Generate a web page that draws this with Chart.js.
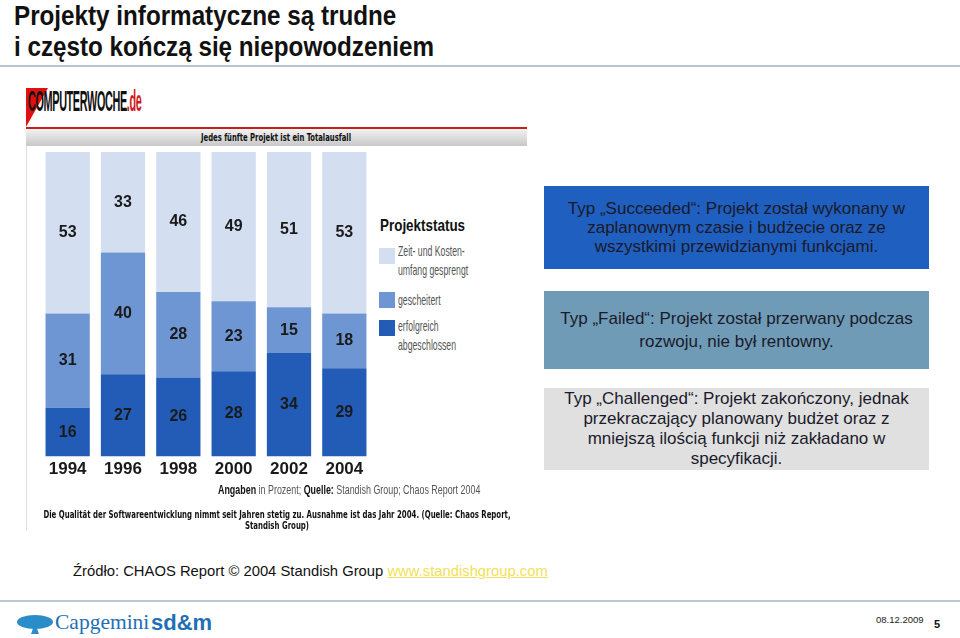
<!DOCTYPE html>
<html lang="pl">
<head>
    <meta charset="UTF-8">
    <title>Projekty informatyczne</title>
    <script src="https://cdn.jsdelivr.net/npm/chart.js"></script>
    <style>
        body {
            margin: 0;
            width: 960px;
            height: 638px;
            position: relative;
            background: #fff;
            font-family: 'Liberation Sans', Arial, sans-serif;
            overflow: hidden;
        }
        .abs { position: absolute; white-space: nowrap; }
        .narrow { transform-origin: left center; }
        h1 {
            position: absolute;
            left: 14px;
            top: 0px;
            margin: 0;
            font-size: 28px;
            line-height: 31px;
            font-weight: bold;
            color: #111;
            transform: scaleX(0.865);
            transform-origin: left top;
            white-space: nowrap;
        }
        .rule { left: 0; top: 65px; width: 960px; height: 2px; background: #b8c4d0; }

        /* scanned newspaper graphic */
        .tri {
            left: 26px; top: 88px;
            width: 0; height: 0;
            border-top: 39px solid #e01010;
            border-right: 22px solid transparent;
        }
        .logo {
            left: 28px; top: 85px;
            font-weight: bold;
            font-size: 29px;
            letter-spacing: -1px;
            color: #111;
            transform: scaleX(0.375);
        }
        .logo span { color: #d01818; }
        .redline { left: 26px; top: 127px; width: 501px; height: 2px; background: #c81e1e; }
        .subbar {
            left: 26px; top: 129px; width: 501px; height: 17px;
            background: linear-gradient(#f2f2f2, #c8c8c8);
        }
        .subbar div {
            position: absolute; left: 250px; top: 0;
            font-family: 'DejaVu Sans Condensed', 'DejaVu Sans', sans-serif;
            font-weight: bold;
            font-size: 10px;
            line-height: 17px;
            color: #111;
            white-space: nowrap;
            transform: translateX(-50%) scaleX(0.76);
        }
        .leftline { left: 26px; top: 146px; width: 1px; height: 384px; background: #ddd; }
        #chartWrap { left: 40px; top: 152px; width: 332px; height: 331px; }

        .lhead { left: 380px; top: 216px; font-weight: bold; font-size: 17px; color: #111; transform: scaleX(0.79); }
        .sw { position: absolute; left: 379px; width: 16px; height: 16px; }
        .ltext { left: 398px; font-size: 15px; line-height: 19px; color: #555; transform: scaleX(0.58); }

        .note { left: 218px; top: 482px; font-size: 13px; color: #555; transform: scaleX(0.685); }
        .note b { color: #111; }
        .caption {
            left: 277px;
            font-family: 'DejaVu Sans Condensed', 'DejaVu Sans', sans-serif;
            font-weight: bold;
            font-size: 10px;
            line-height: 11px;
            color: #111;
            transform: translateX(-50%) scaleX(0.776);
        }
        .box {
            position: absolute;
            left: 544px;
            width: 385px;
            display: flex;
            align-items: center;
            justify-content: center;
            text-align: center;
            font-size: 17px;
            line-height: 19px;
            color: #1a1a2a;
        }
        .src { left: 73px; top: 563px; font-size: 14.8px; color: #111; }
        .src a { color: #f2df55; text-decoration: underline; }
        .footline { left: 0; top: 600px; width: 960px; height: 2px; background: #b8c8d8; }
        .icon { left: 17px; top: 615px; width: 36px; height: 14px; border-radius: 50%; background: #2a8cc8; }
        .stem { left: 31px; top: 623px; width: 0; height: 0; border-left: 4px solid transparent; border-right: 4px solid transparent; border-bottom: 11px solid #2a8cc8; }
        .cap { left: 55px; top: 610px; font-family: 'Liberation Serif', serif; font-size: 21.5px; color: #1f6fb4; }
        .sdm { left: 151px; top: 610px; font-weight: bold; font-size: 22px; color: #1f6fb4; }
        .date { left: 876px; top: 614px; font-size: 9.5px; color: #222; }
        .page { left: 934px; top: 618px; font-size: 11px; font-weight: bold; color: #111; }
    </style>
</head>
<body>
    <h1>Projekty informatyczne są trudne<br>i często kończą się niepowodzeniem</h1>
    <div class="abs rule"></div>

    <div class="abs tri"></div>
    <div class="abs narrow logo">COMPUTERWOCHE<span>.de</span></div>
    <div class="abs redline"></div>
    <div class="abs subbar"><div>Jedes fünfte Projekt ist ein Totalausfall</div></div>
    <div class="abs leftline"></div>

    <div class="abs" id="chartWrap"><canvas id="chaosChart"></canvas></div>

    <div class="abs narrow lhead">Projektstatus</div>
    <div class="sw" style="top:248px;background:#d3dff0"></div>
    <div class="abs narrow ltext" style="top:241px">Zeit- und Kosten-<br>umfang gesprengt</div>
    <div class="sw" style="top:292px;background:#6d96d2"></div>
    <div class="abs narrow ltext" style="top:290px">gescheitert</div>
    <div class="sw" style="top:320px;background:#235cb6"></div>
    <div class="abs narrow ltext" style="top:316px">erfolgreich<br>abgeschlossen</div>

    <div class="abs narrow note"><b>Angaben</b> in Prozent; <b>Quelle:</b> Standish Group; Chaos Report 2004</div>
    <div class="abs caption" style="top:509px">Die Qualität der Softwareentwicklung nimmt seit Jahren stetig zu. Ausnahme ist das Jahr 2004. (Quelle: Chaos Report,</div>
    <div class="abs caption" style="top:520px">Standish Group)</div>

    <div class="box" style="top:186px;height:83px;background:#1f5fc0">Typ „Succeeded“: Projekt został wykonany w<br>zaplanownym czasie i budżecie oraz ze<br>wszystkimi przewidzianymi funkcjami.</div>
    <div class="box" style="top:291px;height:78px;background:#6f9bb6;line-height:23px">Typ „Failed“: Projekt został przerwany podczas<br>rozwoju, nie był rentowny.</div>
    <div class="box" style="top:388px;height:82px;background:#e0e0e0;line-height:20px">Typ „Challenged“: Projekt zakończony, jednak<br>przekraczający planowany budżet oraz z<br>mniejszą ilością funkcji niż zakładano w<br>specyfikacji.</div>

    <div class="abs src">Źródło: CHAOS Report © 2004 Standish Group <a>www.standishgroup.com</a></div>

    <div class="abs footline"></div>
    <div class="abs icon"></div>
    <div class="abs stem"></div>
    <div class="abs cap">Capgemini</div>
    <div class="abs sdm">sd&amp;m</div>
    <div class="abs date">08.12.2009</div>
    <div class="abs page">5</div>

    <script>
        // Standish Group CHAOS report, percentages
        const years = ['1994', '1996', '1998', '2000', '2002', '2004'];
        const succeeded = [16, 27, 26, 28, 34, 29];   // erfolgreich abgeschlossen
        const failed = [31, 40, 28, 23, 15, 18];      // gescheitert
        const challenged = [53, 33, 46, 49, 51, 53];  // Zeit- und Kostenumfang gesprengt

        const chartFont = "'Liberation Sans', Arial, sans-serif";

        // draw the value in the middle of every bar segment
        const valueLabels = {
            id: 'valueLabels',
            afterDatasetsDraw(chart) {
                const ctx = chart.ctx;
                ctx.save();
                ctx.font = 'bold 16px ' + chartFont;
                ctx.fillStyle = '#1a1a1a';
                ctx.textAlign = 'center';
                ctx.textBaseline = 'middle';
                chart.data.datasets.forEach((ds, i) => {
                    chart.getDatasetMeta(i).data.forEach((bar, j) => {
                        const y = (bar.y + bar.base) / 2;
                        ctx.fillText(ds.data[j], bar.x, y);
                    });
                });
                ctx.restore();
            }
        };

        const ctx = document.getElementById('chaosChart').getContext('2d');
        new Chart(ctx, {
            type: 'bar',
            data: {
                labels: years,
                datasets: [
                    { label: 'erfolgreich abgeschlossen', data: succeeded, backgroundColor: '#235cb6' },
                    { label: 'gescheitert', data: failed, backgroundColor: '#6d96d2' },
                    { label: 'Zeit- und Kostenumfang gesprengt', data: challenged, backgroundColor: '#d3dff0' }
                ]
            },
            options: {
                responsive: true,
                maintainAspectRatio: false,
                animation: false,
                layout: { padding: 0 },
                datasets: {
                    bar: { barPercentage: 0.8, categoryPercentage: 1.0 }
                },
                plugins: {
                    legend: { display: false },
                    tooltip: { enabled: false }
                },
                scales: {
                    x: {
                        stacked: true,
                        grid: { display: false, drawTicks: false },
                        border: { display: false },
                        ticks: {
                            padding: 3,
                            color: '#1a1a1a',
                            font: { family: chartFont, size: 17, weight: 'bold' }
                        }
                    },
                    y: {
                        stacked: true,
                        display: false,
                        min: 0,
                        max: 100
                    }
                }
            },
            plugins: [valueLabels]
        });
    </script>
</body>
</html>
